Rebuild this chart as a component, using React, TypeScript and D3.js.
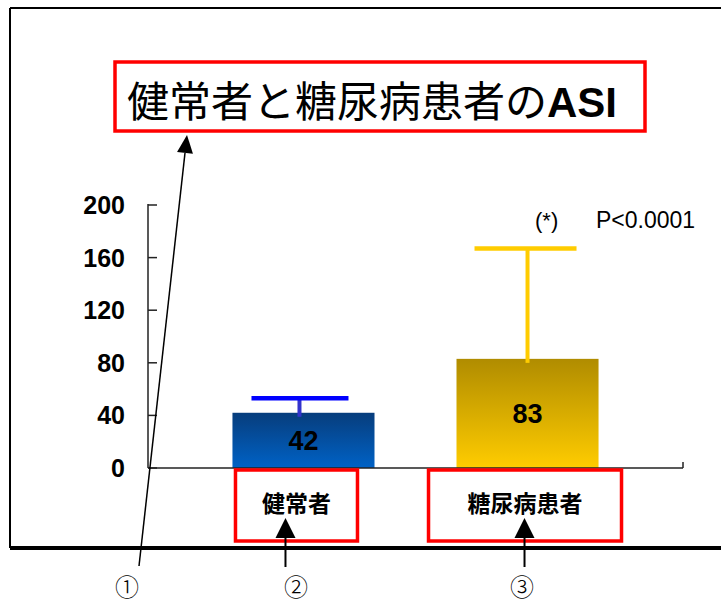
import React from "react";
import * as d3 from "d3";

const categories = ["健常者", "糖尿病患者"];
const means = [42, 83];
const errUpper = [53, 167];
const yTicks = [0, 40, 80, 120, 160, 200];
const titleMain = "健常者と糖尿病患者の";
const titleBold = "ASI";
const pNote = "P<0.0001";
const starNote = "(*)";
const circled = ["①", "②", "③"];

const W = 721;
const H = 604;
const SANS = "'Liberation Sans', Arial, sans-serif";
const JP = "'Noto Sans CJK JP', sans-serif";

export default function App() {
  const y = d3.scaleLinear().domain([0, 200]).range([468, 205]);
  const x = d3
    .scaleBand<string>()
    .domain(categories)
    .range([148, 683])
    .paddingInner(0.366)
    .paddingOuter(0.377);
  const bw = x.bandwidth();
  const cx = (c: string) => (x(c) as number) + bw / 2;

  const gradIds = ["g1", "g2"];
  const capColors = ["#0000ff", "#ffcc00"];
  const stemColors = ["#3333cc", "#ffcc00"];

  // arrow 1 geometry
  const a1b: [number, number] = [139, 566];
  const a1t: [number, number] = [187, 135];
  const dx = a1t[0] - a1b[0];
  const dy = a1t[1] - a1b[1];
  const len = Math.hypot(dx, dy);
  const ux = dx / len;
  const uy = dy / len;
  const hl = 18;
  const hw = 8;
  const baseX = a1t[0] - ux * hl;
  const baseY = a1t[1] - uy * hl;
  const tri1 = [
    [a1t[0], a1t[1]],
    [baseX - uy * hw, baseY + ux * hw],
    [baseX + uy * hw, baseY - ux * hw],
  ]
    .map((p) => p.join(","))
    .join(" ");

  const boxDefs = [
    { c: categories[0], dx: -7, w: 122 },
    { c: categories[1], dx: -2.5, w: 193 },
  ];
  const arrowXs = [cx(categories[0]) - 18, cx(categories[1]) - 3];

  return (
    <svg
      width={W}
      height={H}
      style={{ position: "absolute", left: 0, top: 0, background: "#fff" }}
    >
      <defs>
        <linearGradient id="g1" x1="0" y1="0" x2="0" y2="1">
          <stop offset="0%" stopColor="#073d7c" />
          <stop offset="100%" stopColor="#0062c6" />
        </linearGradient>
        <linearGradient id="g2" x1="0" y1="0" x2="0" y2="1">
          <stop offset="0%" stopColor="#b08c00" />
          <stop offset="100%" stopColor="#ffcc00" />
        </linearGradient>
      </defs>

      {/* frame */}
      <line x1={10} y1={8} x2={721} y2={8} stroke="#000" strokeWidth={2} />
      <line x1={10} y1={8} x2={10} y2={548} stroke="#000" strokeWidth={2} />
      <line x1={10} y1={548} x2={721} y2={548} stroke="#000" strokeWidth={4} />

      {/* title */}
      <rect x={115} y={62} width={530} height={69} fill="#fff" stroke="#ff0000" strokeWidth={3.5} />
      <text x={127} y={117} fontSize={42} fontFamily={JP} fill="#000">
        {titleMain}
        <tspan fontFamily={SANS} fontWeight="bold">{titleBold}</tspan>
      </text>

      {/* bars */}
      {categories.map((c, i) => (
        <rect
          key={c}
          x={x(c)}
          y={y(means[i])}
          width={bw}
          height={y(0) - y(means[i])}
          fill={`url(#${gradIds[i]})`}
        />
      ))}

      {/* error bars */}
      {categories.map((c, i) => (
        <g key={"e" + c}>
          <line
            x1={cx(c) - (i === 0 ? 4 : 0)}
            x2={cx(c) - (i === 0 ? 4 : 0)}
            y1={y(errUpper[i])}
            y2={y(means[i]) + 4}
            stroke={stemColors[i]}
            strokeWidth={4}
          />
          <line
            x1={cx(c) - (i === 0 ? 52 : 53)}
            x2={cx(c) + (i === 0 ? 45 : 49)}
            y1={y(errUpper[i])}
            y2={y(errUpper[i])}
            stroke={capColors[i]}
            strokeWidth={4.5}
          />
        </g>
      ))}

      {/* bar value labels */}
      {categories.map((c, i) => (
        <text
          key={"v" + c}
          x={cx(c)}
          y={(y(means[i]) + y(0)) / 2 + 10}
          textAnchor="middle"
          fontSize={27}
          fontWeight="bold"
          fontFamily={SANS}
          fill="#000"
        >
          {means[i]}
        </text>
      ))}

      {/* axes */}
      <line x1={148} x2={148} y1={y(200) - 1} y2={y(0)} stroke="#222" strokeWidth={1.5} />
      <line x1={148} x2={683} y1={y(0)} y2={y(0)} stroke="#222" strokeWidth={1.5} />
      <line x1={683} x2={683} y1={y(0) - 6} y2={y(0)} stroke="#222" strokeWidth={1.5} />
      {yTicks.map((t) => (
        <g key={t}>
          <line x1={148} x2={157} y1={y(t)} y2={y(t)} stroke="#222" strokeWidth={1.5} />
          <text
            x={125}
            y={y(t) + 9}
            textAnchor="end"
            fontSize={25}
            fontWeight="bold"
            fontFamily={SANS}
            fill="#000"
          >
            {t}
          </text>
        </g>
      ))}

      {/* p value */}
      <text x={535} y={228} fontSize={22} fontFamily={SANS} fill="#000">{starNote}</text>
      <text x={596} y={228} fontSize={23} fontFamily={SANS} fill="#000">{pNote}</text>

      {/* category boxes */}
      {boxDefs.map((b, i) => (
        <g key={"b" + i}>
          <rect
            x={cx(b.c) + b.dx - b.w / 2}
            y={470}
            width={b.w}
            height={71}
            fill="#fff"
            stroke="#ff0000"
            strokeWidth={3.5}
          />
          <text
            x={cx(b.c) + b.dx}
            y={512}
            textAnchor="middle"
            fontSize={23}
            fontWeight="bold"
            fontFamily={JP}
            fill="#000"
          >
            {b.c}
          </text>
        </g>
      ))}

      {/* arrows 2,3 */}
      {arrowXs.map((ax, i) => (
        <g key={"a" + i}>
          <line x1={ax} x2={ax} y1={567} y2={532} stroke="#000" strokeWidth={2} />
          <polygon points={`${ax},518 ${ax - 10},538 ${ax + 10},538`} fill="#000" />
        </g>
      ))}

      {/* arrow 1 */}
      <line x1={a1b[0]} y1={a1b[1]} x2={baseX} y2={baseY} stroke="#000" strokeWidth={1.5} />
      <polygon points={tri1} fill="#000" />

      {/* circled numbers */}
      {[127, 296, 522].map((px, i) => (
        <text
          key={"c" + i}
          x={px}
          y={596}
          textAnchor="middle"
          fontSize={24}
          fontFamily={JP}
          fontWeight={300}
          fill="#000"
        >
          {circled[i]}
        </text>
      ))}
    </svg>
  );
}
